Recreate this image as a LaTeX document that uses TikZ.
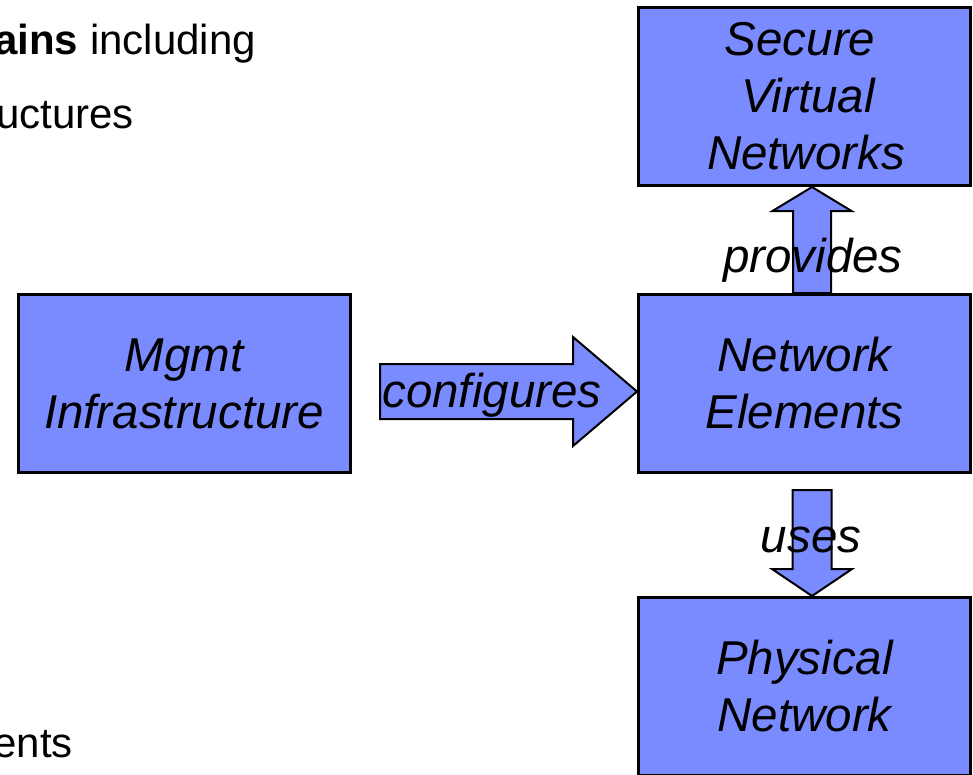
\documentclass[tikz,border=0pt]{standalone}
\usepackage{fontspec}
\setmainfont{Liberation Sans}
\usetikzlibrary{calc}
\definecolor{boxblue}{RGB}{122,138,255}
\tikzset{
  block/.style={draw=black, fill=boxblue, line width=3pt, inner sep=0pt,
    minimum width=332pt, minimum height=178pt, align=center,
    font=\fontsize{47.5}{57}\selectfont\itshape},
  blockarrow/.style={draw=black, fill=boxblue, line width=2pt, line join=miter},
  arrowlabel/.style={anchor=base, inner sep=0pt, font=\fontsize{47.5}{57}\selectfont\itshape},
  bullettext/.style={anchor=base east, inner sep=0pt, font=\fontsize{42}{50}\selectfont}
}
\begin{document}
\begin{tikzpicture}[x=1pt, y=-1pt]
\useasboundingbox (0,0) rectangle (973,774);
\clip (0,0) rectangle (973,774);

% bullet text fragments on the left
\node[bullettext] (line1) at (256,54) {\textbf{ains} including};
\node[bullettext] (line2) at (134,128) {uctures};
\node[bullettext] (line3) at (73,757) {ents};

% boxes (placed first only for their anchors)
\path node[block] (mgmt) at (184,383.5) {\phantom{X}}
      node[block] (ne)   at (804.5,383.5) {\phantom{X}}
      node[block] (svn)  at (804.5,96.5) {\phantom{X}}
      node[block] (phys) at (804.5,686.5) {\phantom{X}};

% block arrows
\coordinate (cfgtip) at ($(ne.west)+(0,8)$);
\draw[blockarrow] (cfgtip) -- ++(-64,-54.5) -- ++(0,27) -- ++(-193,0)
  -- ++(0,55) -- ++(193,0) -- ++(0,27) -- cycle;

\coordinate (pvtip) at ($(svn.south)+(7.5,0)$);
\draw[blockarrow] (pvtip) -- ++(39.5,24) -- ++(-20.5,0) -- (ne.north -| {$(pvtip)+(19,0)$})
  -- (ne.north -| {$(pvtip)+(-19,0)$}) -- ++(0,-82) -- ++(-20.5,0) -- cycle;

\coordinate (ustip) at ($(phys.north)+(7.5,0)$);
\draw[blockarrow] (ustip) -- ++(-40,-27) -- ++(20.5,0) -- ++(0,-79)
  -- ++(39,0) -- ++(0,79) -- ++(20.5,0) -- cycle;

% boxes with their captions
\node[block] at (mgmt) {Mgmt\\Infrastructure};
\node[block] at (ne) {Network\\Elements};
\node[block] at (svn) {Secure\hspace*{9pt}\\\hspace*{7pt}Virtual\\\hspace*{3pt}Networks};
\node[block] at (phys) {Physical\\Network};

% arrow captions
\node[arrowlabel] (cfglabel) at (492,407) {configures};
\node[arrowlabel] (pvlabel) at (813,272) {provides};
\node[arrowlabel] (uslabel) at (811,552) {uses};
\end{tikzpicture}
\end{document}
